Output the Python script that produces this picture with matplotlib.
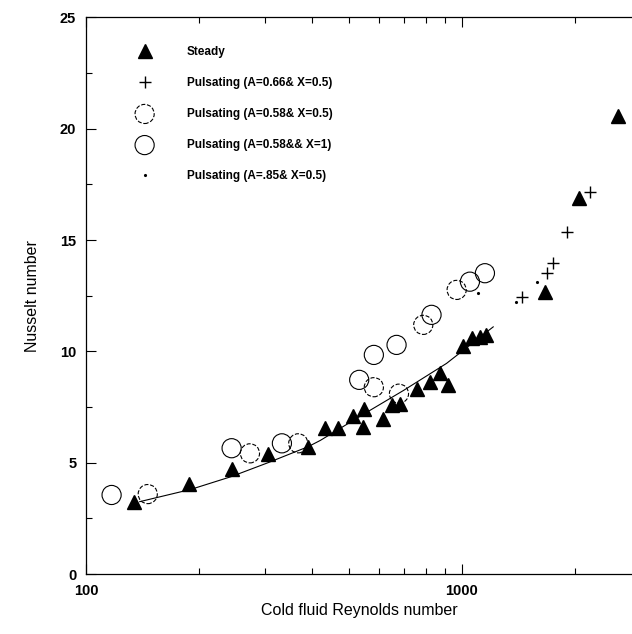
import numpy as np
import matplotlib
matplotlib.use("Agg")
import matplotlib.pyplot as plt
from matplotlib.ticker import LogLocator, MultipleLocator, FixedLocator, NullFormatter

plt.rcParams['font.family'] = ['Liberation Sans', 'DejaVu Sans']

# steady flow
steady_re = [134, 188, 244, 305, 390, 432, 469, 514, 549, 546, 615, 650, 684,
             758, 822, 874, 920, 1005, 1062, 1117, 1159, 1663, 2051, 2606]
steady_nu = [3.25, 4.04, 4.70, 5.39, 5.69, 6.54, 6.57, 7.10, 7.40, 6.62, 6.95, 7.59, 7.64,
             8.30, 8.64, 9.04, 8.49, 10.25, 10.59, 10.66, 10.74, 12.68, 16.88, 20.57]

# pulsating A=0.66, X=0.5
p066_re = [1441, 1680, 1746, 1897, 2188]
p066_nu = [12.46, 13.51, 13.97, 15.38, 17.17]

# pulsating A=0.58, X=0.5
p058_re = [146, 273, 367, 583, 680, 789, 968]
p058_nu = [3.59, 5.42, 5.87, 8.39, 8.10, 11.19, 12.76]

# pulsating A=0.58, X=1
p058x1_re = [117, 244, 332, 533, 583, 670, 830, 1050, 1151]
p058x1_nu = [3.55, 5.65, 5.87, 8.72, 9.84, 10.29, 11.64, 13.13, 13.51]

# pulsating A=0.85, X=0.5
p085_re = [1103, 1392, 1580]
p085_nu = [12.6, 12.2, 13.1]

# trend line
fit_re = [139, 190, 243, 305, 390, 420, 550, 700, 910, 1211]
fit_nu = [3.25, 3.80, 4.37, 5.00, 5.72, 6.00, 7.20, 8.25, 9.46, 11.10]

labels = ['Steady', 'Pulsating (A=0.66& X=0.5)', 'Pulsating (A=0.58& X=0.5)',
          'Pulsating (A=0.58&& X=1)', 'Pulsating (A=.85& X=0.5)']

fig = plt.figure(figsize=(6.32, 6.34), dpi=100)
ax = fig.add_axes([0.136, 0.0946, 0.864, 0.878])

ax.plot(fit_re, fit_nu, color='k', lw=0.8, zorder=2)
h_o1 = ax.scatter(p058x1_re, p058x1_nu, s=190, facecolors='none', edgecolors='k',
                  linewidths=0.8, zorder=3)
h_o2 = ax.scatter(p058_re, p058_nu, s=190, facecolors='none', edgecolors='k',
                  linewidths=0.8, linestyle='--', zorder=3)
h_tri, = ax.plot(steady_re, steady_nu, '^', color='k', ms=10, ls='none', zorder=4)
h_plus, = ax.plot(p066_re, p066_nu, '+', color='k', ms=8, mew=1.0, ls='none', zorder=4)
h_dot, = ax.plot(p085_re, p085_nu, '.', color='k', ms=2.5, ls='none', zorder=4)

ax.set_xscale('log')
ax.set_xlim(100, 2833)
ax.set_ylim(0, 25)
ax.xaxis.set_major_locator(FixedLocator([100, 1000]))
ax.xaxis.set_major_formatter(matplotlib.ticker.FixedFormatter(['100', '1000']))
ax.xaxis.set_minor_locator(LogLocator(base=10, subs=np.arange(2, 10)))
ax.xaxis.set_minor_formatter(NullFormatter())
ax.yaxis.set_major_locator(MultipleLocator(5))
ax.yaxis.set_minor_locator(MultipleLocator(2.5))

ax.tick_params(which='both', direction='in', top=True, right=False, width=0.8)
ax.tick_params(which='major', length=7, labelsize=10.5, pad=7)
ax.tick_params(which='minor', length=4)
for t in ax.get_xticklabels() + ax.get_yticklabels():
    t.set_fontweight('bold')
ax.spines['right'].set_visible(False)
for s in ['left', 'top', 'bottom']:
    ax.spines[s].set_linewidth(0.9)

ax.set_xlabel('Cold fluid Reynolds number', fontsize=11.5, labelpad=4)
ax.set_ylabel('Nusselt number', fontsize=11.5, labelpad=14)

leg = ax.legend([h_tri, h_plus, h_o2, h_o1, h_dot], labels, loc='upper left',
                bbox_to_anchor=(0.075, 0.968), frameon=False,
                handlelength=1.2, handletextpad=3.0, labelspacing=1.62,
                prop={'weight': 'bold', 'size': 8.5})

fig.savefig('out.png', dpi=100)
